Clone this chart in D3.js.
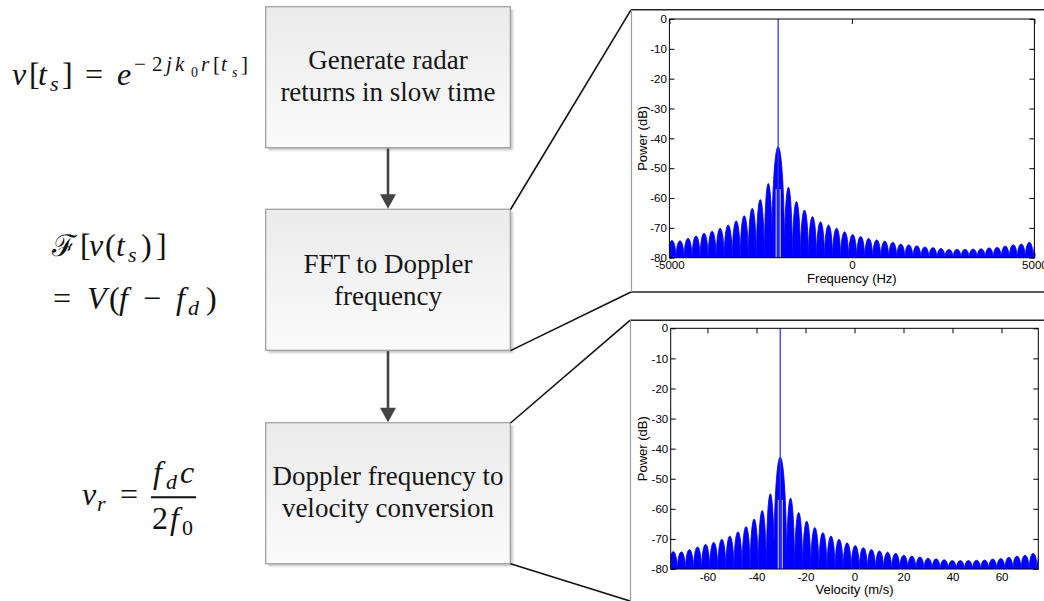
<!DOCTYPE html>
<html>
<head>
<meta charset="utf-8">
<script src="https://cdn.jsdelivr.net/npm/d3@7"></script>
<style>
  body { margin: 0; background: #fff; }
  svg { display: block; }
</style>
</head>
<body>
<script>
const W = 1044, H = 601

// flow chart steps (two lines each)
const steps = [
  ['Generate radar', 'returns in slow time'],
  ['FFT to Doppler', 'frequency'],
  ['Doppler frequency to', 'velocity conversion']
]

// spectrum: target spike, main lobe and side lobes (Hz, dB)
const spikeFreq = -2020
const spikePower = 0
const mainLobe = { freq: -2020, halfWidth: 180, power: -42.8 }
const sideLobeHalfWidth = 110
const centerNullFreqs = [-2075, -1965]
const centerNullTop = -57

const leftLobeFreqs = [-2290, -2510, -2730, -2950, -3170, -3390, -3610, -3830, -4050, -4270, -4490, -4710, -4930]
const leftLobePowers = [-55.0, -60.5, -63.4, -65.9, -67.6, -69.0, -70.1, -71.1, -71.8, -72.7, -73.5, -74.3, -74.2]

const rightLobeFreqs = [-1740, -1520, -1300, -1080, -860, -640, -420, -200, 20, 240, 460, 680, 900, 1120,
  1340, 1560, 1780, 2000, 2220, 2440, 2660, 2880, 3100, 3320, 3540, 3760, 3980, 4200, 4420, 4640, 4860, 5080]
const rightLobePowers = [-56.4, -61.2, -64.0, -66.2, -67.9, -69.0, -70.1, -71.3, -72.2, -72.9, -73.5, -74.0, -74.4, -74.8,
  -75.4, -75.7, -76.0, -76.4, -76.6, -76.9, -77.2, -77.2, -77.2, -77.1, -77.0, -76.7, -76.5, -76.1, -75.7, -75.4, -74.8, -74.5]

const freqDomain = [-5000, 5000]
const velDomain = [-75, 75]
const powerDomain = [-80, 0]
const freqTicks = [-5000, 0, 5000]
const velTicks = [-60, -40, -20, 0, 20, 40, 60]
const powerTicks = [0, -10, -20, -30, -40, -50, -60, -70, -80]

const svg = d3.select('body').append('svg')
  .attr('width', W)
  .attr('height', H)

const defs = svg.append('defs')
const grad = defs.append('linearGradient')
  .attr('id', 'boxfill')
  .attr('x1', 0).attr('y1', 0).attr('x2', 0).attr('y2', 1)
grad.append('stop').attr('offset', '0%').attr('stop-color', '#ebebeb')
grad.append('stop').attr('offset', '100%').attr('stop-color', '#fbfbfb')
defs.append('filter').attr('id', 'blur')
  .append('feGaussianBlur').attr('stdDeviation', 1.2)

// ---- flow boxes ----
const boxX = 265.7, boxW = 244.6, boxH = 141
const boxTops = [6.7, 209.3, 422.7]
const lineBaselines = [[68.5, 100.5], [273, 305], [485, 517]]

steps.forEach((lines, i) => {
  const g = svg.append('g')
  g.append('rect')
    .attr('x', boxX + 2.5).attr('y', boxTops[i] + 2.5)
    .attr('width', boxW).attr('height', boxH)
    .attr('fill', '#c4c4c4')
    .attr('filter', 'url(#blur)')
  g.append('rect')
    .attr('x', boxX).attr('y', boxTops[i])
    .attr('width', boxW).attr('height', boxH)
    .attr('fill', 'url(#boxfill)')
    .attr('stroke', '#a3a3a3')
    .attr('stroke-width', 1.3)
  lines.forEach((t, j) => {
    g.append('text')
      .attr('x', boxX + boxW / 2)
      .attr('y', lineBaselines[i][j])
      .attr('text-anchor', 'middle')
      .attr('font-family', 'Liberation Serif, serif')
      .attr('font-size', 27)
      .attr('fill', '#161616')
      .text(t)
  })
})

// arrows between boxes
const cx = boxX + boxW / 2
for (let i = 0; i < 2; i++) {
  const y0 = boxTops[i] + boxH + 0.8
  const y1 = boxTops[i + 1]
  svg.append('line')
    .attr('x1', cx).attr('x2', cx)
    .attr('y1', y0).attr('y2', y1 - 12)
    .attr('stroke', '#444').attr('stroke-width', 2.6)
  svg.append('path')
    .attr('d', `M${cx - 8},${y1 - 15} L${cx + 8},${y1 - 15} L${cx},${y1 - 0.5} Z`)
    .attr('fill', '#444')
}

// ---- equations ----
function mathText(parts) {
  const t = svg.append('text')
    .attr('font-family', 'Liberation Serif, serif')
    .attr('fill', '#111')
  parts.forEach(p => {
    t.append('tspan')
      .attr('x', p[1]).attr('y', p[2])
      .attr('font-size', p[3])
      .attr('font-style', p[4] ? 'italic' : 'normal')
      .text(p[0])
  })
  return t
}

// v[t_s] = e^{-2jk_0 r[t_s]}
mathText([
  ['v', 12, 85, 32, 1], ['[', 29, 85, 32, 0], ['t', 38, 85, 32, 1], ['s', 50, 91, 22, 1], [']', 62, 85, 32, 0],
  ['=', 85, 85, 32, 0], ['e', 117, 85, 32, 1],
  ['\u2212', 134, 71, 21, 0], ['2', 152, 71, 21, 0], ['j', 166, 71, 21, 1], ['k', 175, 71, 21, 1],
  ['0', 191, 77, 14, 0], ['r', 201, 71, 21, 1], ['[', 213, 71, 21, 0], ['t', 221, 71, 21, 1],
  ['s', 232, 77, 14, 1], [']', 241, 71, 21, 0]
])

// F[v(t_s)] = V(f - f_d)
mathText([
  ['\u2131', 52, 256, 30, 0], ['[', 80, 256, 32, 0], ['v', 89, 256, 32, 1], ['(', 105, 256, 32, 0],
  ['t', 116, 256, 32, 1], ['s', 128, 262, 22, 1], [')', 141, 256, 32, 0], [']', 156, 256, 32, 0]
])
mathText([
  ['=', 53, 309, 32, 0], ['V', 87, 309, 32, 1], ['(', 109, 309, 32, 0], ['f', 119, 309, 32, 1],
  ['\u2212', 143, 309, 32, 0], ['f', 176, 309, 32, 1], ['d', 188, 315, 22, 1], [')', 206, 309, 32, 0]
])

// v_r = f_d c / 2 f_0
mathText([
  ['v', 82, 505, 32, 1], ['r', 97, 511, 22, 1], ['=', 120, 505, 32, 0],
  ['f', 153, 483, 32, 1], ['d', 166, 489, 22, 1], ['c', 180, 483, 32, 1],
  ['2', 152, 529, 32, 0], ['f', 170, 529, 32, 1], ['0', 182, 535, 22, 0]
])
svg.append('line')
  .attr('x1', 151).attr('x2', 196)
  .attr('y1', 497.3).attr('y2', 497.3)
  .attr('stroke', '#111').attr('stroke-width', 2)

// ---- connector lines to the spectrum panels ----
const connectors = [
  [510.5, 209.5, 631, 9.8],
  [510.5, 350.6, 631, 292],
  [510.5, 423, 630, 320.3],
  [510.5, 563.8, 630, 601]
]
connectors.forEach(c => {
  svg.append('line')
    .attr('x1', c[0]).attr('y1', c[1]).attr('x2', c[2]).attr('y2', c[3])
    .attr('stroke', '#111').attr('stroke-width', 1.6)
})

// ---- spectrum panels ----
const panels = [
  { frame: [631, 9.8, 292], l: 669.4, r: 1034.4, t: 19, b: 257.7, domain: freqDomain, ticks: freqTicks,
    label: 'Frequency (Hz)', labelY: 282.5, ylabelX: 646.5, id: 'c1' },
  { frame: [630, 320.3, 640], l: 670.7, r: 1038.3, t: 328.3, b: 569, domain: velDomain, ticks: velTicks,
    label: 'Velocity (m/s)', labelY: 593.5, ylabelX: 646.5, id: 'c2' }
]

const sideLobes = leftLobeFreqs.map((f, i) => ({ freq: f, halfWidth: sideLobeHalfWidth, power: leftLobePowers[i] }))
  .concat(rightLobeFreqs.map((f, i) => ({ freq: f, halfWidth: sideLobeHalfWidth, power: rightLobePowers[i] })))
const lobes = [mainLobe].concat(sideLobes)

const axisFont = 'Liberation Sans, Arial, sans-serif'

panels.forEach(p => {
  const g = svg.append('g')

  // outer frame of the inset figure
  g.append('line')
    .attr('x1', p.frame[0]).attr('x2', W)
    .attr('y1', p.frame[1]).attr('y2', p.frame[1])
    .attr('stroke', '#262626').attr('stroke-width', 1.6)
  g.append('line')
    .attr('x1', p.frame[0]).attr('x2', W)
    .attr('y1', p.frame[2]).attr('y2', p.frame[2])
    .attr('stroke', '#262626').attr('stroke-width', 1.6)
  g.append('line')
    .attr('x1', p.frame[0] + 0.5).attr('x2', p.frame[0] + 0.5)
    .attr('y1', p.frame[1]).attr('y2', Math.min(p.frame[2], H))
    .attr('stroke', '#9c9c9c').attr('stroke-width', 1.2)

  const x = d3.scaleLinear().domain(p.domain).range([p.l, p.r])
  const fx = d3.scaleLinear().domain(freqDomain).range([p.l, p.r])
  const y = d3.scaleLinear().domain(powerDomain).range([p.b, p.t])

  const axes = g.append('g')
    .attr('font-family', axisFont)
    .attr('font-size', 11.5)

  axes.append('g')
    .attr('transform', `translate(${p.l},0)`)
    .call(d3.axisLeft(y).tickValues(powerTicks).tickSize(-5).tickPadding(2.5).tickFormat(d => String(d)))
  axes.append('g')
    .attr('transform', `translate(${p.r},0)`)
    .call(d3.axisRight(y).tickValues(powerTicks).tickSize(-5).tickFormat(''))
  axes.append('g')
    .attr('transform', `translate(0,${p.t})`)
    .call(d3.axisTop(x).tickValues(p.ticks).tickSize(-5).tickFormat(''))
  axes.append('g')
    .attr('transform', `translate(0,${p.b})`)
    .call(d3.axisBottom(x).tickValues(p.ticks).tickSize(-5).tickPadding(3.5).tickFormat(d => String(d)))

  axes.selectAll('.domain').remove()
  axes.selectAll('g').attr('font-family', null).attr('font-size', null)
  axes.selectAll('.tick line').attr('stroke', '#000').attr('stroke-width', 1)
  axes.selectAll('.tick text').attr('fill', '#000')

  // data, clipped to the plot box
  defs.append('clipPath').attr('id', p.id)
    .append('rect')
    .attr('x', p.l).attr('y', p.t - 1)
    .attr('width', p.r - p.l).attr('height', p.b - p.t + 1)

  const data = g.append('g').attr('clip-path', `url(#${p.id})`)

  data.selectAll('path.lobe')
    .data(lobes)
    .enter()
    .append('path')
    .attr('class', 'lobe')
    .attr('d', d => {
      const x0 = fx(d.freq - d.halfWidth * 0.97)
      const x1 = fx(d.freq + d.halfWidth * 0.97)
      const yb = y(powerDomain[0])
      const yt = y(d.power)
      return `M${x0},${yb} A${(x1 - x0) / 2},${yb - yt} 0 0 1 ${x1},${yb} Z`
    })
    .attr('fill', '#0000ff')
    .attr('stroke', '#0000ff')
    .attr('stroke-width', 0.8)

  data.selectAll('line.null')
    .data(centerNullFreqs)
    .enter()
    .append('line')
    .attr('class', 'null')
    .attr('x1', d => fx(d)).attr('x2', d => fx(d))
    .attr('y1', y(powerDomain[0])).attr('y2', y(centerNullTop))
    .attr('stroke', '#fff').attr('stroke-width', 0.9)

  data.append('line')
    .attr('x1', fx(spikeFreq)).attr('x2', fx(spikeFreq))
    .attr('y1', y(powerDomain[0])).attr('y2', y(spikePower))
    .attr('stroke', '#3535ff').attr('stroke-width', 1.3)

  // plot box
  g.append('rect')
    .attr('x', p.l).attr('y', p.t)
    .attr('width', p.r - p.l).attr('height', p.b - p.t)
    .attr('fill', 'none')
    .attr('stroke', '#000').attr('stroke-width', 1)

  g.append('text')
    .attr('x', (p.l + p.r) / 2).attr('y', p.labelY)
    .attr('text-anchor', 'middle')
    .attr('font-family', axisFont)
    .attr('font-size', 13)
    .text(p.label)

  g.append('text')
    .attr('transform', `translate(${p.ylabelX},${(p.t + p.b) / 2}) rotate(-90)`)
    .attr('text-anchor', 'middle')
    .attr('font-family', axisFont)
    .attr('font-size', 13)
    .text('Power (dB)')
})
</script>
</body>
</html>
